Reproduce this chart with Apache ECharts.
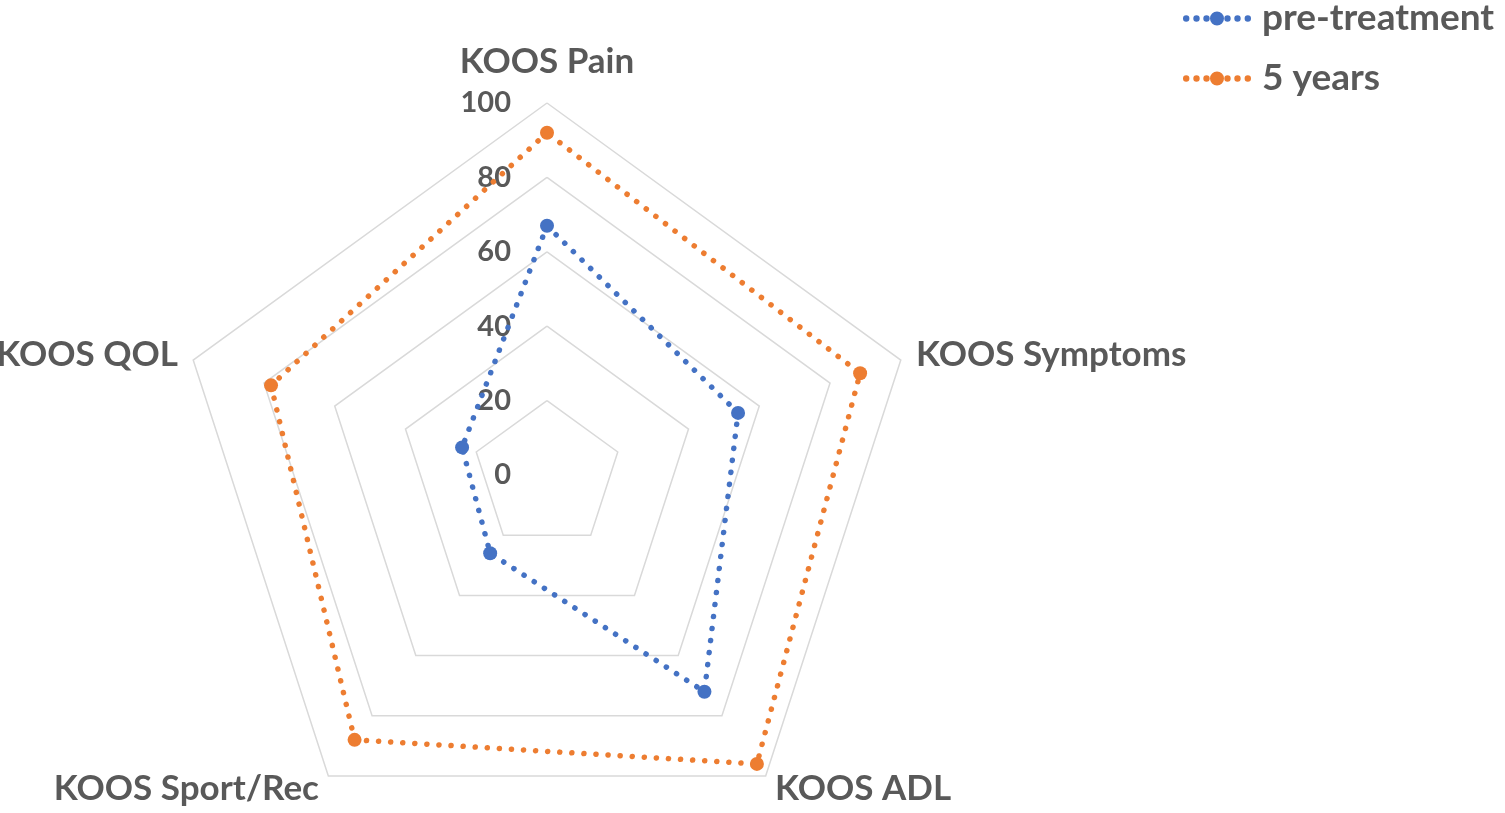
<!DOCTYPE html>
<html>
<head>
<meta charset="utf-8">
<script src="https://cdn.jsdelivr.net/npm/echarts@6/dist/echarts.min.js"></script>
<style>
html,body{margin:0;padding:0;background:#fff;}
#chart{width:1505px;height:813px;}
</style>
</head>
<body>
<div id="chart"></div>
<script>
// Categories in clockwise order, starting at top
var categories = ['KOOS Pain', 'KOOS Symptoms', 'KOOS ADL', 'KOOS Sport/Rec', 'KOOS QOL'];
var seriesNames = ['pre-treatment', '5 years'];
var preTreatment = [67, 54, 72, 26, 24];
var fiveYears = [92, 88.5, 96, 88, 78];
var axisMax = 100;
var axisTicks = [0, 20, 40, 60, 80, 100];

// ECharts radar runs counter-clockwise: reorder
var order = [0, 4, 3, 2, 1];
function reorder(arr) { return order.map(function (i) { return arr[i]; }); }

var textColor = '#595959';
var fontFam = 'Lato, "Open Sans", sans-serif';

var indicators = reorder(categories).map(function (name, k) {
  var ind = { name: name, min: 0, max: axisMax };
  if (k === 0) {
    ind.axisLabel = {
      show: true, color: textColor, fontSize: 29, fontWeight: 'bold',
      fontFamily: fontFam, margin: 36
    };
  }
  return ind;
});

function dot(cx, r) {
  return 'M' + (cx - r) + ',7a' + r + ',' + r + ' 0 1,0 ' + (2 * r) + ',0a' + r + ',' + r + ' 0 1,0 ' + (-2 * r) + ',0';
}
var legendIcon = 'path://' + dot(3.2, 3.2) + dot(13.5, 3.2) + dot(23.5, 3.2) + dot(34, 7) +
  dot(44.5, 3.2) + dot(54.5, 3.2) + dot(64.8, 3.2);

var chart = echarts.init(document.getElementById('chart'));
chart.setOption({
  animation: false,
  color: ['#4472C4', '#ED7D31'],
  legend: {
    orient: 'vertical',
    left: 1178, top: -5,
    itemWidth: 68, itemHeight: 14, itemGap: 23,
    icon: legendIcon,
    textStyle: { color: textColor, fontSize: 37, fontWeight: 'bold', fontFamily: fontFam, lineHeight: 34, padding: [0, 0, 0, 6] },
    data: seriesNames
  },
  radar: {
    center: [547, 475],
    radius: 372,
    startAngle: 90,
    splitNumber: axisTicks.length - 1,
    shape: 'polygon',
    indicator: indicators,
    nameGap: 16,
    axisName: {
      color: textColor, fontSize: 35, fontWeight: 'bold', fontFamily: fontFam,
      formatter: function (name) {
        return name === categories[0] ? '{top|' + name + '}' : name;
      },
      rich: {
        top: { color: textColor, fontSize: 35, fontWeight: 'bold', fontFamily: fontFam, padding: [0, 0, 8, 0] }
      }
    },
    axisLine: { show: false },
    axisTick: { show: false },
    axisLabel: { show: false },
    splitLine: { lineStyle: { color: '#d9d9d9', width: 1.5 } },
    splitArea: { show: false }
  },
  series: [{
    type: 'radar',
    data: [
      {
        name: seriesNames[0], value: reorder(preTreatment),
        symbol: 'circle', symbolSize: 14,
        lineStyle: { color: '#4472C4', width: 5.5, type: [0.1, 12], cap: 'round' },
        itemStyle: { color: '#4472C4' }
      },
      {
        name: seriesNames[1], value: reorder(fiveYears),
        symbol: 'circle', symbolSize: 14,
        lineStyle: { color: '#ED7D31', width: 5.5, type: [0.1, 12], cap: 'round' },
        itemStyle: { color: '#ED7D31' }
      }
    ]
  }]
});
</script>
</body>
</html>
